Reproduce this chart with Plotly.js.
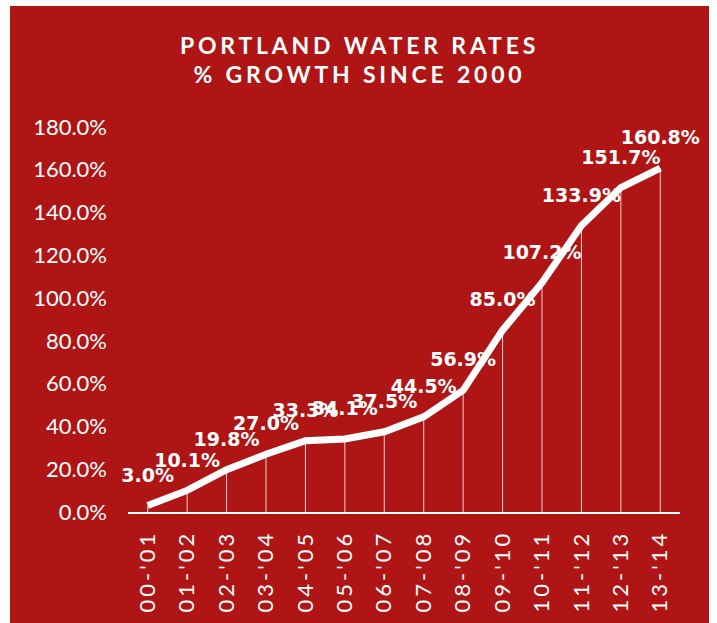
<!DOCTYPE html>
<html>
<head>
<meta charset="utf-8">
<script src="https://cdn.plot.ly/plotly-3.0.1.min.js"></script>
<style>
  html, body { margin: 0; padding: 0; background: #ffffff; width: 717px; height: 623px; overflow: hidden; }
  #chart { position: absolute; left: 10px; top: 6px; width: 699px; height: 617px; }
  #chart .xtick text { letter-spacing: 3px; }
  #chart .gtitle { letter-spacing: 3.8px; }
</style>
</head>
<body>
<div id="chart"></div>
<script>
const categories = ["00-'01", "01-'02", "02-'03", "03-'04", "04-'05", "05-'06", "06-'07", "07-'08", "08-'09", "09-'10", "10-'11", "11-'12", "12-'13", "13-'14"];
const growth = [3.0, 10.1, 19.8, 27.0, 33.3, 34.1, 37.5, 44.5, 56.9, 85.0, 107.2, 133.9, 151.7, 160.8];
const labels = growth.map(v => v.toFixed(1) + '%');
const zeros = growth.map(() => 0);

const red = '#b01515';

const labelTrace = {
  x: categories,
  y: growth,
  type: 'scatter',
  mode: 'markers+text',
  text: labels,
  textposition: 'top center',
  textfont: { family: 'DejaVu Sans', size: 19, color: '#ffffff', weight: 700 },
  marker: { size: 29, color: 'rgba(0,0,0,0)' },
  error_y: { type: 'data', symmetric: false, array: zeros, arrayminus: growth, width: 0, thickness: 1, color: 'rgba(255,255,255,0.8)' },
  cliponaxis: false,
  hoverinfo: 'skip',
  showlegend: false
};

const lineTrace = {
  x: categories,
  y: growth,
  type: 'scatter',
  mode: 'lines',
  line: { color: '#ffffff', width: 7, shape: 'linear' },
  cliponaxis: false,
  showlegend: false
};

const layout = {
  width: 699,
  height: 617,
  paper_bgcolor: red,
  plot_bgcolor: red,
  margin: { l: 118, r: 29, t: 121, b: 111 },
  title: {
    text: 'PORTLAND WATER RATES<br>% GROWTH SINCE 2000',
    font: { family: 'Lato', size: 23, color: '#ffffff', weight: 700 },
    x: 0.5, xanchor: 'center',
    yref: 'container', y: 1 - 47.5 / 617, yanchor: 'middle'
  },
  xaxis: {
    type: 'category',
    range: [-0.5, 13.5],
    showgrid: false,
    zeroline: false,
    showline: true,
    linecolor: '#ffffff',
    linewidth: 2,
    ticks: '',
    tickangle: -90,
    ticklabelstandoff: 8,
    tickfont: { family: 'Lato', size: 22, color: '#ffffff' },
    fixedrange: true
  },
  yaxis: {
    range: [0, 180],
    dtick: 20,
    tick0: 0,
    tickformat: '.1f',
    ticksuffix: '%',
    showgrid: false,
    zeroline: false,
    showline: false,
    ticks: '',
    ticklabelstandoff: 20,
    tickfont: { family: 'Lato', size: 22, color: '#ffffff' },
    fixedrange: true
  }
};

Plotly.newPlot('chart', [labelTrace, lineTrace], layout, { displayModeBar: false, staticPlot: true });
</script>
</body>
</html>
